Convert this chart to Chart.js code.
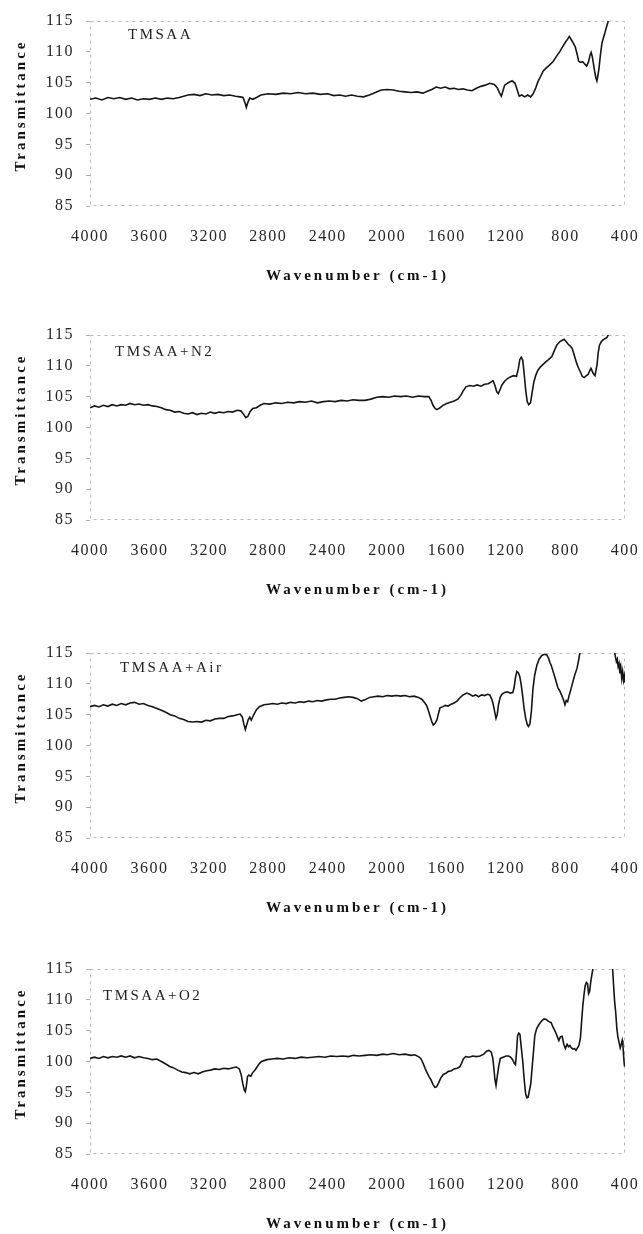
<!DOCTYPE html>
<html lang="en">
<head>
<meta charset="UTF-8">
<title>FTIR spectra of TMSAA</title>
<script src="https://cdn.jsdelivr.net/npm/chart.js"></script>
<style>
    * {
        margin: 0;
        padding: 0;
        box-sizing: border-box;
    }

    body {
        background: #fff;
        width: 643px;
        height: 1234px;
        position: relative;
        overflow: hidden;
    }

    .panel {
        position: absolute;
        left: 0;
        width: 643px;
        height: 279px;
    }
</style>
</head>
<body>
    <div class="panel" style="top:7px"><canvas id="chart0"></canvas></div>
    <div class="panel" style="top:321px"><canvas id="chart1"></canvas></div>
    <div class="panel" style="top:639px"><canvas id="chart2"></canvas></div>
    <div class="panel" style="top:955px"><canvas id="chart3"></canvas></div>

<script>
// ---- data: [wavenumber, transmittance] ----
const panelNames = ['TMSAA', 'TMSAA+N2', 'TMSAA+Air', 'TMSAA+O2'];
const xTickValues = [4000, 3600, 3200, 2800, 2400, 2000, 1600, 1200, 800, 400];
const yTickValues = [85, 90, 95, 100, 105, 110, 115];
const yAxisTitle = 'Transmittance';
const xAxisTitle = 'Wavenumber (cm-1)';

const tmsaa = [
    [4000,102.3],[3960,102.5],[3920,102.2],[3880,102.6],[3840,102.4],[3800,102.6],[3760,102.3],[3720,102.5],
    [3680,102.2],[3640,102.4],[3600,102.3],[3560,102.5],[3520,102.3],[3480,102.5],[3440,102.4],[3400,102.6],
    [3370,102.8],[3340,103.0],[3300,103.1],[3260,102.9],[3220,103.2],[3180,103.0],[3140,103.1],[3100,102.9],
    [3060,103.0],[3020,102.8],[2990,102.7],[2970,102.6],[2955,101.6],[2948,101.0],[2938,101.8],[2925,102.5],
    [2905,102.3],[2880,102.6],[2850,103.0],[2800,103.2],[2750,103.1],[2700,103.3],[2650,103.2],[2600,103.4],
    [2550,103.2],[2500,103.3],[2450,103.1],[2400,103.2],[2360,102.9],[2320,103.0],[2280,102.8],[2240,103.0],
    [2200,102.8],[2160,102.7],[2120,103.0],[2080,103.4],[2040,103.8],[2000,103.9],[1960,103.8],[1920,103.6],
    [1880,103.5],[1840,103.4],[1800,103.5],[1760,103.3],[1730,103.6],[1700,103.9],[1670,104.3],[1640,104.1],
    [1610,104.3],[1580,104.0],[1550,104.1],[1520,103.9],[1490,104.0],[1460,103.8],[1430,103.7],[1400,104.1],
    [1370,104.4],[1340,104.6],[1310,104.9],[1280,104.7],[1260,104.2],[1245,103.4],[1232,102.8],[1222,103.6],
    [1210,104.6],[1185,105.0],[1160,105.3],[1140,104.9],[1125,103.8],[1112,102.8],[1095,103.0],[1075,102.7],
    [1055,103.0],[1035,102.7],[1018,103.2],[1000,104.2],[985,105.2],[968,106.0],[950,106.9],[930,107.4],
    [910,107.8],[885,108.4],[860,109.3],[840,110.0],[820,110.8],[800,111.6],[785,112.1],[775,112.5],
    [762,112.0],[748,111.4],[735,110.8],[722,109.6],[712,108.5],[700,108.3],[685,108.4],[670,108.0],
    [658,107.7],[645,108.4],[635,109.5],[628,109.9],[620,109.2],[612,108.0],[604,106.8],[596,105.8],
    [589,105.3],[582,106.2],[575,107.3],[565,109.6],[555,111.4],[545,112.3],[535,113.1],[525,114.0],
    [515,114.8],[505,116.5]
];

const tmsaaN2 = [
    [4000,103.2],[3970,103.5],[3940,103.3],[3910,103.6],[3880,103.4],[3850,103.7],[3820,103.5],[3790,103.7],
    [3760,103.6],[3730,103.9],[3700,103.7],[3670,103.8],[3640,103.6],[3610,103.7],[3580,103.5],[3550,103.4],
    [3520,103.2],[3490,102.9],[3460,102.8],[3430,102.5],[3400,102.6],[3370,102.3],[3340,102.2],[3310,102.4],
    [3280,102.1],[3250,102.3],[3220,102.2],[3190,102.5],[3160,102.3],[3130,102.5],[3100,102.4],[3070,102.6],
    [3040,102.5],[3010,102.8],[2985,102.7],[2968,102.2],[2952,101.6],[2938,101.8],[2922,102.6],[2905,103.1],
    [2880,103.2],[2855,103.6],[2830,103.9],[2790,103.8],[2750,104.0],[2710,103.9],[2670,104.1],[2630,104.0],
    [2590,104.2],[2550,104.1],[2510,104.3],[2470,104.0],[2430,104.2],[2390,104.3],[2350,104.2],[2310,104.4],
    [2270,104.3],[2230,104.5],[2190,104.4],[2150,104.4],[2110,104.6],[2070,104.9],[2030,105.0],[1990,104.9],
    [1950,105.1],[1910,105.0],[1870,105.1],[1830,104.9],[1790,105.1],[1750,105.0],[1720,105.0],[1705,104.4],
    [1692,103.6],[1678,103.1],[1665,102.9],[1645,103.2],[1625,103.6],[1600,103.9],[1575,104.1],[1550,104.3],
    [1525,104.6],[1505,105.2],[1490,105.9],[1470,106.6],[1445,106.8],[1420,106.7],[1395,106.9],[1370,106.7],
    [1345,107.0],[1320,107.1],[1300,107.4],[1288,107.6],[1275,106.8],[1263,105.8],[1252,105.5],[1240,106.2],
    [1228,106.9],[1210,107.5],[1192,107.9],[1172,108.2],[1150,108.4],[1130,108.3],[1118,109.5],[1108,111.0],
    [1098,111.4],[1088,110.9],[1078,108.6],[1068,106.0],[1058,104.2],[1048,103.7],[1036,104.0],[1026,105.5],
    [1014,107.3],[1000,108.5],[986,109.3],[970,109.8],[953,110.2],[935,110.6],[915,111.0],[892,111.5],
    [875,112.5],[858,113.4],[840,113.9],[825,114.1],[810,114.3],[795,113.9],[782,113.5],[768,113.2],
    [755,112.8],[740,111.6],[725,110.4],[712,109.6],[700,109.0],[688,108.3],[675,108.1],[660,108.4],
    [648,108.6],[638,109.2],[629,109.6],[620,109.1],[612,108.7],[602,108.4],[595,109.3],[588,110.2],
    [580,112.2],[572,113.3],[560,113.9],[548,114.2],[535,114.4],[521,114.6],[508,115.3]
];

const tmsaaAir = [
    [4000,106.3],[3970,106.5],[3940,106.3],[3910,106.6],[3880,106.4],[3850,106.7],[3820,106.5],[3790,106.8],
    [3760,106.6],[3730,106.9],[3700,107.0],[3670,106.7],[3640,106.8],[3610,106.5],[3580,106.3],[3550,106.0],
    [3520,105.7],[3490,105.4],[3460,105.0],[3430,104.8],[3400,104.4],[3370,104.2],[3340,103.9],[3310,103.8],
    [3280,103.9],[3250,103.8],[3220,104.1],[3190,104.0],[3160,104.3],[3130,104.4],[3100,104.4],[3070,104.7],
    [3040,104.8],[3010,105.0],[2990,105.1],[2975,104.6],[2965,103.5],[2955,102.6],[2945,103.4],[2935,104.2],
    [2925,104.6],[2915,104.1],[2900,104.9],[2880,105.8],[2860,106.3],[2830,106.6],[2800,106.7],[2770,106.8],
    [2740,106.7],[2710,106.9],[2680,106.8],[2650,107.0],[2620,106.9],[2590,107.1],[2560,107.0],[2530,107.2],
    [2500,107.1],[2470,107.3],[2440,107.2],[2410,107.4],[2380,107.5],[2350,107.5],[2320,107.7],[2290,107.8],
    [2260,107.9],[2230,107.8],[2200,107.6],[2175,107.2],[2150,107.4],[2120,107.8],[2090,107.9],[2060,108.0],
    [2030,107.9],[2000,108.1],[1970,108.0],[1940,108.1],[1910,108.0],[1880,108.1],[1850,107.9],[1820,108.0],
    [1790,107.8],[1768,107.5],[1750,107.0],[1735,106.5],[1722,105.6],[1712,104.8],[1700,103.9],[1690,103.3],
    [1678,103.6],[1665,104.2],[1655,105.2],[1645,106.1],[1625,106.3],[1610,106.5],[1590,106.4],[1570,106.7],
    [1550,106.9],[1530,107.2],[1512,107.7],[1490,108.2],[1465,108.5],[1445,108.3],[1425,108.0],[1405,108.2],
    [1385,107.9],[1365,108.2],[1345,108.1],[1325,108.3],[1310,108.2],[1298,107.6],[1288,106.8],[1278,105.6],
    [1268,104.4],[1260,105.0],[1252,106.5],[1240,107.8],[1228,108.3],[1210,108.6],[1192,108.7],[1172,108.5],
    [1155,108.6],[1146,109.4],[1138,110.9],[1128,112.0],[1118,111.8],[1108,111.2],[1098,109.8],[1088,107.9],
    [1078,105.8],[1068,104.4],[1058,103.4],[1050,103.1],[1040,103.5],[1030,105.5],[1020,109.0],[1008,111.4],
    [993,113.0],[978,114.0],[960,114.6],[943,114.8],[926,114.7],[915,114.2],[906,113.5],[895,112.9],
    [885,112.1],[870,110.9],[852,109.4],[838,108.8],[825,108.1],[814,107.4],[804,106.6],[795,107.3],
    [786,107.1],[775,108.2],[762,109.3],[750,110.4],[737,111.5],[723,112.5],[710,114.1],[700,115.5],
    [690,117.0],[480,117.0],[472,115.5],[465,114.4],[458,113.6],[452,114.0],[446,112.8],[440,113.3],
    [434,111.7],[428,112.6],[422,110.9],[416,112.0],[410,110.6],[405,111.3],[400,110.2]
];

const tmsaaO2 = [
    [4000,100.5],[3970,100.7],[3940,100.5],[3910,100.8],[3880,100.6],[3850,100.8],[3820,100.7],[3790,100.9],
    [3760,100.7],[3730,100.9],[3700,100.6],[3670,100.8],[3640,100.6],[3610,100.5],[3580,100.3],[3550,100.4],
    [3520,100.0],[3490,99.6],[3464,99.2],[3440,99.0],[3410,98.6],[3382,98.3],[3355,98.2],[3330,98.0],
    [3300,98.2],[3272,98.0],[3245,98.3],[3215,98.5],[3189,98.6],[3160,98.8],[3130,98.7],[3100,98.9],
    [3070,98.8],[3040,99.0],[3015,99.1],[2995,98.8],[2982,97.8],[2972,96.4],[2962,95.4],[2955,95.1],
    [2948,96.0],[2940,97.6],[2930,97.8],[2918,97.6],[2905,98.2],[2887,98.7],[2865,99.5],[2846,100.0],
    [2810,100.3],[2777,100.4],[2740,100.5],[2700,100.4],[2660,100.6],[2620,100.5],[2580,100.7],[2540,100.6],
    [2502,100.7],[2460,100.8],[2420,100.7],[2380,100.9],[2340,100.8],[2300,100.9],[2260,100.8],[2228,101.0],
    [2190,100.9],[2150,101.0],[2110,101.1],[2070,101.0],[2030,101.2],[2000,101.1],[1960,101.3],[1920,101.1],
    [1880,101.2],[1840,101.0],[1815,101.1],[1790,100.8],[1774,100.5],[1760,99.8],[1747,99.0],[1732,98.2],
    [1718,97.5],[1705,97.0],[1692,96.3],[1680,95.8],[1668,95.9],[1655,96.5],[1640,97.3],[1623,97.9],
    [1605,98.1],[1588,98.4],[1568,98.5],[1550,98.8],[1530,98.9],[1513,99.1],[1500,99.7],[1488,100.4],
    [1472,100.8],[1450,100.7],[1425,100.9],[1400,100.8],[1376,100.9],[1350,101.2],[1330,101.7],[1315,101.8],
    [1300,101.5],[1290,100.6],[1282,98.8],[1275,97.0],[1268,96.1],[1260,97.5],[1250,99.2],[1239,100.5],
    [1220,100.7],[1200,100.9],[1184,100.9],[1170,100.7],[1156,100.3],[1145,99.7],[1137,99.5],[1130,101.5],
    [1123,104.2],[1115,104.6],[1107,104.4],[1098,102.3],[1088,100.0],[1078,97.0],[1069,94.8],[1060,94.1],
    [1052,94.2],[1043,95.3],[1034,96.4],[1025,99.0],[1015,101.8],[1007,104.2],[995,105.3],[979,106.0],
    [960,106.6],[945,106.9],[930,106.8],[915,106.5],[897,106.3],[885,105.6],[870,104.9],[858,104.2],
    [845,103.4],[835,104.0],[823,104.1],[812,102.8],[801,102.1],[790,102.8],[780,102.4],[771,102.6],
    [760,102.2],[750,102.0],[740,102.1],[730,101.8],[720,102.2],[710,102.6],[700,103.8],[692,106.5],
    [684,109.0],[676,110.8],[668,112.3],[660,112.8],[652,112.6],[645,111.0],[638,111.4],[630,113.0],
    [622,114.2],[612,115.5],[600,118.0],[490,118.0],[482,114.5],[476,112.0],[470,109.8],[462,107.8],
    [455,105.4],[448,104.0],[440,103.1],[432,102.2],[425,102.8],[419,103.4],[414,102.6],[410,101.2],
    [406,99.8],[403,99.2]
];

const spectra = [tmsaa, tmsaaN2, tmsaaAir, tmsaaO2];

// where each panel's name sits, measured from the plot's top-left corner
const labelOffsets = [[38, 14], [25, 17], [30, 15], [13, 27]];

const serif = "'Liberation Serif', 'Times New Roman', serif";

// dashed frame, spaced-out axis titles and the sample name
const spectrumDecor = {
    id: 'spectrumDecor',
    beforeDraw(chart) {
        chart.ctx.letterSpacing = '1.5px';
    },
    beforeDatasetsDraw(chart) {
        const {ctx, chartArea: a} = chart;
        ctx.save();
        ctx.strokeStyle = '#b8b8b8';
        ctx.lineWidth = 1;
        ctx.setLineDash([3, 4]);
        ctx.strokeRect(a.left + 0.5, a.top + 0.5, a.width - 1, a.height - 1);
        ctx.restore();
    },
    afterDraw(chart, args, opts) {
        const {ctx, chartArea: a} = chart;
        ctx.save();
        ctx.fillStyle = '#111';
        ctx.textAlign = 'center';
        ctx.textBaseline = 'middle';
        ctx.letterSpacing = '3px';
        ctx.font = 'bold 15px ' + serif;
        ctx.fillText(xAxisTitle, (a.left + a.right) / 2, a.bottom + 70);
        ctx.save();
        ctx.translate(21, (a.top + a.bottom) / 2 - 8);
        ctx.rotate(-Math.PI / 2);
        ctx.fillText(yAxisTitle, 0, 0);
        ctx.restore();
        ctx.font = '15px ' + serif;
        ctx.textAlign = 'left';
        ctx.letterSpacing = '2.5px';
        ctx.fillStyle = '#222';
        ctx.fillText(opts.label, a.left + opts.dx, a.top + opts.dy);
        ctx.restore();
    }
};

function drawPanel(i) {
    const ctx = document.getElementById('chart' + i).getContext('2d');
    new Chart(ctx, {
        type: 'line',
        data: {
            datasets: [{
                data: spectra[i].map(p => ({x: p[0], y: p[1]})),
                borderColor: '#151515',
                borderWidth: 1.6,
                pointRadius: 0,
                tension: 0,
                fill: false
            }]
        },
        options: {
            responsive: true,
            maintainAspectRatio: false,
            animation: false,
            events: [],
            layout: {padding: {top: 14, right: 18, left: 0, bottom: 0}},
            plugins: {
                legend: {display: false},
                tooltip: {enabled: false},
                spectrumDecor: {label: panelNames[i], dx: labelOffsets[i][0], dy: labelOffsets[i][1]}
            },
            scales: {
                x: {
                    type: 'linear',
                    reverse: true,
                    min: 400,
                    max: 4000,
                    afterBuildTicks: s => { s.ticks = xTickValues.map(v => ({value: v})); },
                    afterFit: s => { s.height = 80; s.paddingLeft = 0; s.paddingRight = 0; },
                    grid: {display: false, drawTicks: false},
                    border: {display: false},
                    ticks: {
                        padding: 21,
                        maxRotation: 0,
                        autoSkip: false,
                        color: '#262626',
                        font: {family: serif, size: 16},
                        callback: v => String(v)
                    }
                },
                y: {
                    min: 85,
                    max: 115,
                    afterBuildTicks: s => { s.ticks = yTickValues.map(v => ({value: v})); },
                    afterFit: s => { s.width = 90; s.paddingTop = 0; s.paddingBottom = 0; },
                    grid: {display: true, drawOnChartArea: false, drawTicks: true, tickLength: 4, color: '#aaa'},
                    border: {display: false},
                    ticks: {
                        padding: 12,
                        color: '#262626',
                        font: {family: serif, size: 16},
                        callback: v => String(v)
                    }
                }
            }
        },
        plugins: [spectrumDecor]
    });
}

for (let i = 0; i < spectra.length; i++) {
    drawPanel(i);
}
</script>
</body>
</html>
